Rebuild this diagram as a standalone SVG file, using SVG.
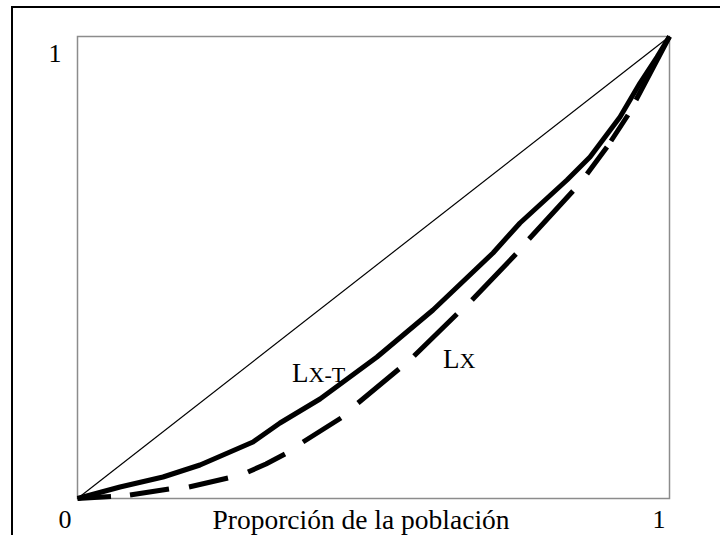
<svg xmlns="http://www.w3.org/2000/svg" width="720" height="535" viewBox="0 0 720 535">
<style>
text{font-family:"Liberation Serif","Times New Roman",serif;fill:#000}
.tick{font-size:26px;text-anchor:middle}
.title{font-size:27.5px;text-anchor:middle}
.lbl{font-size:27px}
.curve{fill:none;stroke:#000;stroke-width:5;stroke-linejoin:round}
</style>
<rect width="720" height="535" fill="#fff"/>
<g id="frame">
<polyline points="12,535 12,7 720,7" fill="none" stroke="#000" stroke-width="2"/>
<rect x="77.5" y="36.5" width="592" height="462" fill="none" stroke="#8c8c8c" stroke-width="1.5"/>
</g>
<g id="connectors">
<line id="equality" x1="77.5" y1="498.5" x2="669.5" y2="36.5" stroke="#000" stroke-width="1.2"/>
<polyline id="lxt" class="curve" points="77.5,498.5 120,487 163,477 200,465 253,442 280,423 320,399 377,357 433,310 493,253 520,223 567,180 590,157 620,117 640,83 657,57 669.5,36.5"/>
<path id="lx" class="curve" d="M77.5,498.5 L111,496.5 M130,495 L169,489 M189,487 L228,478 M248,472 L266,464 L285,454 M303,442 L341,418 M358,403 L399,369 M414,356 L457,314 M472,300 L516,254 M529,239 L573,191 M587,174 L607,147 M611,141 L628,115 M636,100 L669.5,36.5"/>
</g>
<g id="labels">
<text class="tick" x="55" y="62">1</text>
<text class="tick" x="65" y="528">0</text>
<text class="tick" x="659" y="528">1</text>
<text class="title" x="361" y="529">Proporción de la población</text>
<text class="lbl" x="292" y="382">L<tspan font-size="22">X-T</tspan></text>
<text class="lbl" x="443" y="368">L<tspan font-size="22">X</tspan></text>
</g>
</svg>
